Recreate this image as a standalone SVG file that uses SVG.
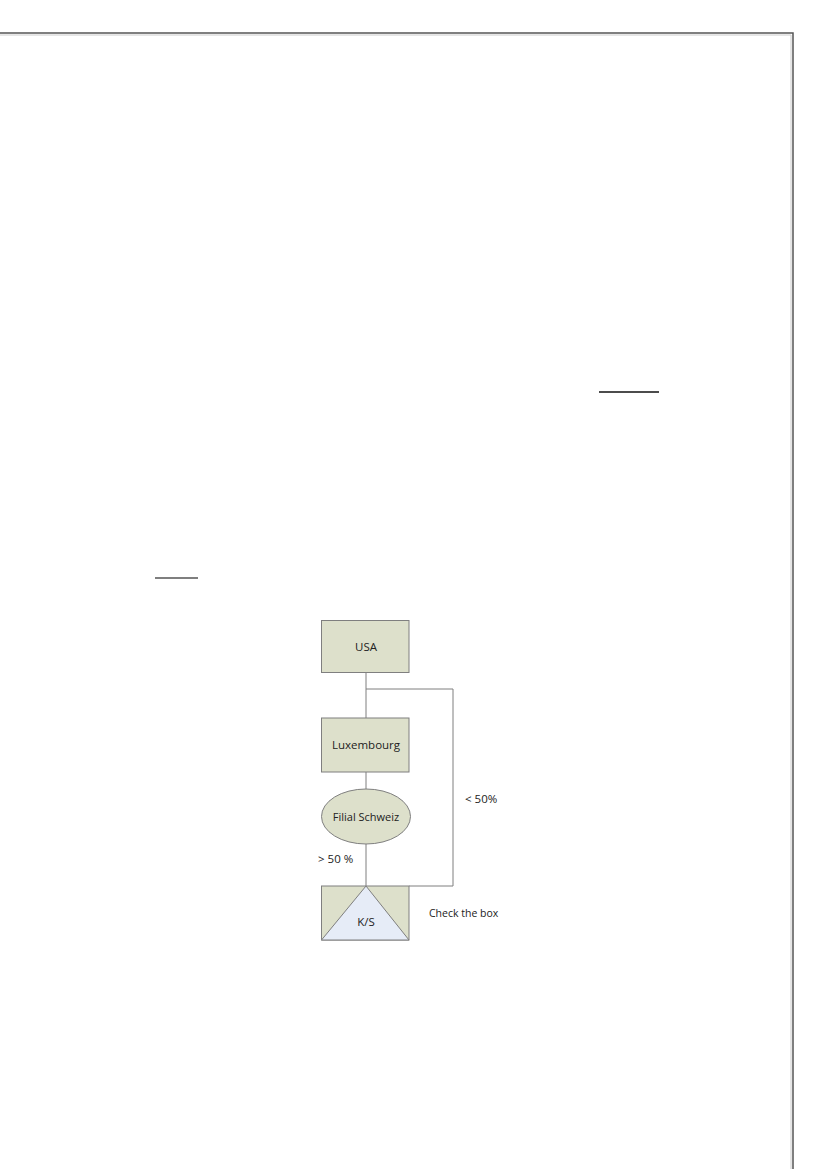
<svg xmlns="http://www.w3.org/2000/svg" width="827" height="1169" viewBox="0 0 827 1169">
<style>
.box{fill:#dde0cb;stroke:#7f7f7f;stroke-width:1}
.tri{fill:#e6ecf7;stroke:#7f7f7f;stroke-width:1}
.conn{fill:none;stroke:#7f7f7f;stroke-width:1}
.t{font-family:"Open Sans","Liberation Sans",sans-serif;font-size:11.5px;fill:#222}
.c{text-anchor:middle}
</style>
<rect width="827" height="1169" fill="#fff"/>
<g id="page-border">
<polyline points="0,33 793,33 793,1169" fill="none" stroke="#555" stroke-width="1.5"/>
<polyline points="0,35 791,35 791,1169" fill="none" stroke="#ccc" stroke-width="1"/>
</g>
<g id="underlines">
<line x1="599" y1="392" x2="659" y2="392" stroke="#111" stroke-width="1.3"/>
<line x1="155" y1="578" x2="198" y2="578" stroke="#555" stroke-width="1.5"/>
</g>
<g id="connectors">
<line class="conn" x1="366" y1="673" x2="366" y2="718"/>
<polyline class="conn" points="366,689 453,689 453,886 409,886"/>
<line class="conn" x1="366" y1="772" x2="366" y2="789"/>
<line class="conn" x1="366" y1="844" x2="366" y2="886"/>
</g>
<g id="usa">
<rect class="box" x="321.5" y="620.5" width="87.5" height="52"/>
<text class="t c" x="366" y="651">USA</text>
</g>
<g id="luxembourg">
<rect class="box" x="321.5" y="718" width="87.5" height="54"/>
<text class="t c" x="366" y="749">Luxembourg</text>
</g>
<g id="filial-schweiz">
<ellipse class="box" cx="366" cy="816.5" rx="44.5" ry="27.5"/>
<text class="t c" x="366" y="820.5" style="font-size:11px">Filial Schweiz</text>
</g>
<g id="ks">
<rect class="box" x="321.5" y="886" width="87.5" height="54"/>
<polygon class="tri" points="366,886 321.5,940 409,940"/>
<text class="t c" x="366" y="925.5">K/S</text>
</g>
<g id="labels">
<text class="t" x="465" y="803">&lt; 50%</text>
<text class="t" x="318" y="863">&gt; 50 %</text>
<text class="t" x="429" y="917" style="font-size:10.5px">Check the box</text>
</g>
</svg>
